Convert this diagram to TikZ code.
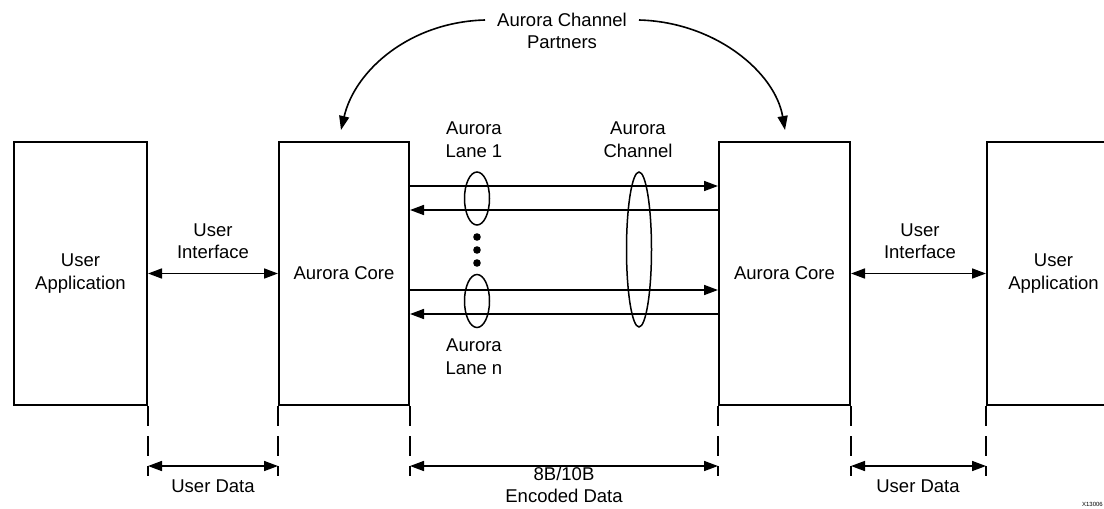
\documentclass[tikz,border=0pt]{standalone}
\usepackage{fontspec}
\setmainfont{Liberation Sans}
\usetikzlibrary{arrows.meta,shapes.geometric,calc}
\begin{document}
\begin{tikzpicture}[x=1pt,y=-1pt,
  font=\fontsize{18.5}{22.5}\selectfont,
  blk/.style={draw, line width=2pt, inner sep=0pt, minimum height=263pt, align=center},
  lbl/.style={align=center, inner sep=0pt},
  conn/.style={line width=1.6pt, -{Triangle[length=14pt,width=10pt]}},
  biconn/.style={line width=1.6pt, {Triangle[length=14pt,width=10pt]}-{Triangle[length=14pt,width=10pt]}},
  oval/.style={draw, ellipse, line width=1.5pt, inner sep=0pt},
  dimline/.style={line width=1.6pt, dash pattern=on 20pt off 10pt}
]
\useasboundingbox (0,0) rectangle (1104,509);

% blocks
\node[blk, minimum width=133pt] (b1) at (80.5,273.5) {User\\Application};
\node[blk, minimum width=130pt] (b2) at (344,273.5) {Aurora Core};
\node[blk, minimum width=131pt] (b3) at (784.5,273.5) {Aurora Core};
\node[blk, minimum width=133pt] (b4) at (1053.5,273.5) {User\\Application};

% user interfaces
\draw[biconn] (b1.east) -- (b2.west);
\draw[biconn] (b3.east) -- (b4.west);
\node[lbl] (ui1) at (213,241) {User\\Interface};
\node[lbl] (ui2) at (920,241) {User\\Interface};

% lanes
\draw[conn] (b2.east |- 0,186) -- (b3.west |- 0,186);
\draw[conn] (b3.west |- 0,210) -- (b2.east |- 0,210);
\draw[conn] (b2.east |- 0,290) -- (b3.west |- 0,290);
\draw[conn] (b3.west |- 0,314) -- (b2.east |- 0,314);

\node[oval, minimum width=25pt, minimum height=53pt] (l1) at (477,198.5) {};
\node[oval, minimum width=25pt, minimum height=53pt] (ln) at (477,301) {};
\node[oval, minimum width=25pt, minimum height=155pt] (ch) at (639,249.5) {};
\fill (477,237) circle (3.8pt);
\fill (477,250) circle (3.8pt);
\fill (477,263) circle (3.8pt);

\node[lbl] (lane1) at (474,139.5) {Aurora\\Lane 1};
\node[lbl] (chan) at (638,139.5) {Aurora\\Channel};
\node[lbl] (lanen) at (474,356.5) {Aurora\\Lane n};

% partners
\node[lbl, inner xsep=12pt] (t1) at (562,20) {Aurora Channel};
\node[lbl] (t2) at (562,42) {Partners};
\draw[conn] (t1.west) .. controls (410,22) and (355,70) .. (341,130);
\draw[conn] (t1.east) .. controls (715,22) and (775,72) .. (785,130);

% dimension lines
\draw[dimline] (b1.south east) -- ++(0,70) coordinate (d1);
\draw[dimline] (b2.south west) -- ++(0,70) coordinate (d2);
\draw[dimline] (b2.south east) -- ++(0,70) coordinate (d3);
\draw[dimline] (b3.south west) -- ++(0,70) coordinate (d4);
\draw[dimline] (b3.south east) -- ++(0,70) coordinate (d5);
\draw[dimline] (b4.south west) -- ++(0,70) coordinate (d6);

\draw[biconn] ($(d1)+(0,-10)$) -- ($(d2)+(0,-10)$);
\draw[biconn] ($(d3)+(0,-10)$) -- ($(d4)+(0,-10)$);
\draw[biconn] ($(d5)+(0,-10)$) -- ($(d6)+(0,-10)$);

\node[lbl] (ud1) at (213,486) {User Data};
\node[lbl] (enc) at (564,485) {8B/10B\\Encoded Data};
\node[lbl] (ud2) at (918,486) {User Data};

\node[lbl, anchor=east, font=\fontsize{6}{7}\selectfont] (xid) at (1103,504) {X13006};
\end{tikzpicture}
\end{document}
